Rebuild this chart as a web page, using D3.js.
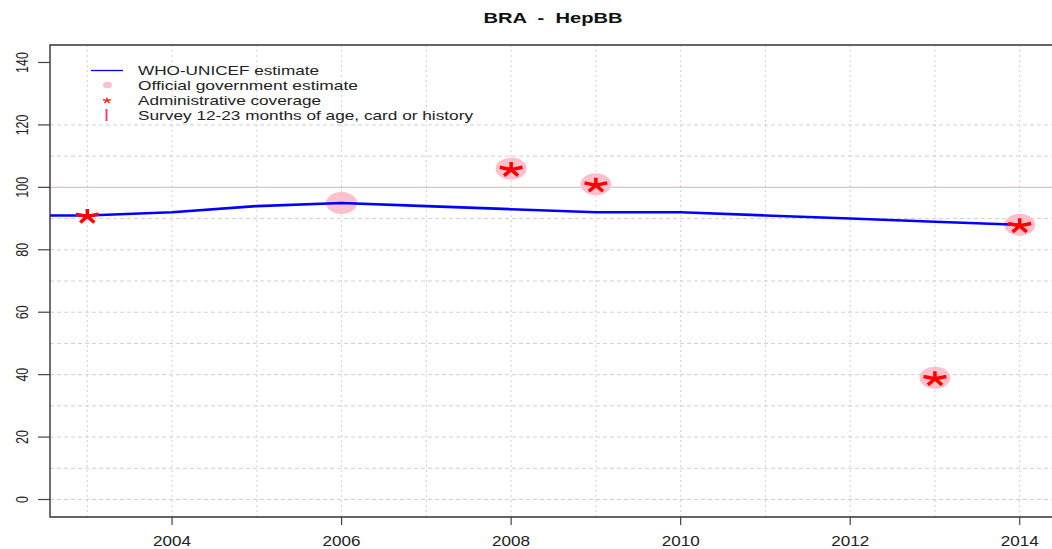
<!DOCTYPE html>
<html>
<head>
<meta charset="utf-8">
<script src="https://cdn.jsdelivr.net/npm/d3@7"></script>
<style>
  html, body { margin: 0; padding: 0; background: #fff; }
  svg { display: block; font-family: "Liberation Sans", Arial, sans-serif; }
  text { white-space: pre; }
</style>
</head>
<body>
<svg id="chart" width="1052" height="549"></svg>
<script>
// WHO-UNICEF estimate (blue line)
const wuenicYears  = [2002, 2003, 2004, 2005, 2006, 2007, 2008, 2009, 2010, 2011, 2012, 2013, 2014];
const wuenicValues = [91, 91, 92, 94, 95, 94, 93, 92, 92, 91, 90, 89, 88];

// Official government estimate (pink discs)
const officialYears  = [2006, 2008, 2009, 2013, 2014];
const officialValues = [95, 106, 101, 39, 88];

// Administrative coverage (red asterisks)
const adminYears  = [2003, 2008, 2009, 2013, 2014];
const adminValues = [91, 106, 101, 39, 88];

// Axis ticks and grid
const xTickYears  = [2004, 2006, 2008, 2010, 2012, 2014];
const xGridYears  = [2003, 2004, 2005, 2006, 2007, 2008, 2009, 2010, 2011, 2012, 2013, 2014];
const yTickValues = [0, 20, 40, 60, 80, 100, 120, 140];
const yGridValues = [0, 10, 20, 30, 40, 50, 60, 70, 80, 90, 110, 120];

const legendLabels = [
  "WHO-UNICEF estimate",
  "Official government estimate",
  "Administrative coverage",
  "Survey 12-23 months of age, card or history"
];

const svg = d3.select("#chart");
const plotLeft = 50, plotTop = 45, plotRight = 1057, plotBottom = 517;

// R-style 4% padding around the data range
const x = d3.scaleLinear().domain([2002.56, 2014.44]).range([plotLeft, plotRight]);
const y = d3.scaleLinear().domain([-5.6, 145.6]).range([plotBottom, plotTop]);

svg.append("defs").append("clipPath").attr("id", "plotArea")
  .append("rect").attr("x", plotLeft).attr("y", plotTop)
  .attr("width", plotRight - plotLeft).attr("height", plotBottom - plotTop);

const plot = svg.append("g").attr("clip-path", "url(#plotArea)");

// grid
plot.selectAll("line.vgrid").data(xGridYears).join("line")
  .attr("class", "vgrid")
  .attr("x1", d => x(d)).attr("x2", d => x(d))
  .attr("y1", plotTop).attr("y2", plotBottom)
  .attr("stroke", "#d0d0d0").attr("stroke-width", 1)
  .attr("stroke-dasharray", "2,3");

plot.selectAll("line.hgrid").data(yGridValues).join("line")
  .attr("class", "hgrid")
  .attr("x1", plotLeft).attr("x2", plotRight)
  .attr("y1", d => y(d)).attr("y2", d => y(d))
  .attr("stroke", "#d0d0d0").attr("stroke-width", 1)
  .attr("stroke-dasharray", "4,3");

// reference line at 100%
plot.append("line")
  .attr("x1", plotLeft).attr("x2", plotRight)
  .attr("y1", y(100)).attr("y2", y(100))
  .attr("stroke", "#f7b8c2").attr("stroke-width", 1.2);

// official estimates
plot.selectAll("ellipse.official").data(officialYears.map((yr, i) => [yr, officialValues[i]]))
  .join("ellipse")
  .attr("class", "official")
  .attr("cx", d => x(d[0])).attr("cy", d => y(d[1]))
  .attr("rx", 15.5).attr("ry", 11)
  .attr("fill", "#ffc0cb");

// WUENIC line
const line = d3.line().x(d => x(d[0])).y(d => y(d[1]));
plot.append("path")
  .datum(wuenicYears.map((yr, i) => [yr, wuenicValues[i]]))
  .attr("d", line)
  .attr("fill", "none")
  .attr("stroke", "#0000ff")
  .attr("stroke-width", 2.6);

// five-armed asterisk, wider than tall
function asterisk(cx, cy, len, sx) {
  let p = "";
  for (let k = 0; k < 5; k++) {
    const a = k * 2 * Math.PI / 5;
    p += `M${cx},${cy}L${cx + Math.sin(a) * len * sx},${cy - Math.cos(a) * len}`;
  }
  return p;
}

plot.selectAll("path.admin").data(adminYears.map((yr, i) => [yr, adminValues[i]]))
  .join("path")
  .attr("class", "admin")
  .attr("d", d => asterisk(x(d[0]), y(d[1]) + 1, 7.5, 1.6))
  .attr("fill", "none")
  .attr("stroke", "#ff0000")
  .attr("stroke-width", 3.5)
  .attr("stroke-linecap", "butt");

// frame (left, top, bottom)
svg.append("path")
  .attr("d", `M${plotRight},${plotTop}H${plotLeft}V${plotBottom}H${plotRight}`)
  .attr("fill", "none").attr("stroke", "#333").attr("stroke-width", 1.4);

// y axis
const yAxis = svg.append("g");
yAxis.selectAll("line").data(yTickValues).join("line")
  .attr("x1", 38).attr("x2", plotLeft)
  .attr("y1", d => y(d)).attr("y2", d => y(d))
  .attr("stroke", "#444").attr("stroke-width", 1.2);
yAxis.selectAll("text").data(yTickValues).join("text")
  .attr("transform", d => `translate(27.5,${y(d)}) scale(1.3,1) rotate(-90)`)
  .attr("text-anchor", "middle")
  .attr("font-size", 12.5)
  .attr("fill", "#222")
  .text(d => d);

// x axis
const xAxis = svg.append("g");
xAxis.selectAll("line").data(xTickYears).join("line")
  .attr("x1", d => x(d)).attr("x2", d => x(d))
  .attr("y1", plotBottom).attr("y2", 525)
  .attr("stroke", "#444").attr("stroke-width", 1.2);
xAxis.selectAll("text").data(xTickYears).join("text")
  .attr("x", d => x(d)).attr("y", 545.5)
  .attr("text-anchor", "middle")
  .attr("font-size", 14.5)
  .attr("textLength", 38).attr("lengthAdjust", "spacingAndGlyphs")
  .attr("fill", "#222")
  .text(d => d);

// title
svg.append("text")
  .attr("x", 553).attr("y", 22.5)
  .attr("text-anchor", "middle")
  .attr("font-size", 14.4).attr("font-weight", "bold")
  .attr("textLength", 139).attr("lengthAdjust", "spacingAndGlyphs")
  .attr("fill", "#111")
  .text("BRA  -  HepBB");

// legend
const legend = svg.append("g");
const rowY = [70.5, 85, 100, 115];
const textWidths = [181, 220, 183, 335];
legend.selectAll("text").data(legendLabels).join("text")
  .attr("x", 138).attr("y", (d, i) => rowY[i] + 4.8)
  .attr("font-size", 13)
  .attr("textLength", (d, i) => textWidths[i]).attr("lengthAdjust", "spacingAndGlyphs")
  .attr("fill", "#222")
  .text(d => d);

legend.append("line")
  .attr("x1", 91).attr("x2", 123).attr("y1", rowY[0]).attr("y2", rowY[0])
  .attr("stroke", "#0000ff").attr("stroke-width", 1.3);
legend.append("ellipse")
  .attr("cx", 107.5).attr("cy", rowY[1]).attr("rx", 4.5).attr("ry", 3.3)
  .attr("fill", "#ffc0cb");
legend.append("path")
  .attr("d", asterisk(107, rowY[2] + 0.5, 3, 1.4))
  .attr("fill", "none").attr("stroke", "#ff2020").attr("stroke-width", 1.4);
legend.append("line")
  .attr("x1", 106.5).attr("x2", 106.5).attr("y1", 109).attr("y2", 121)
  .attr("stroke", "#f0406a").attr("stroke-width", 2);
</script>
</body>
</html>
